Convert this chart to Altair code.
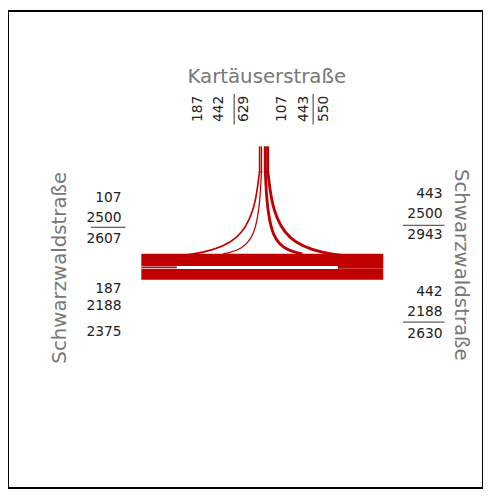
import altair as alt
import pandas as pd

# ---------------- data ----------------
thru_names = ["Ost → West", "West → Ost"]
thru_volumes = [2500, 2188]

turn_names = ["West → Kartäuser", "Kartäuser → West", "Ost → Kartäuser", "Kartäuser → Ost"]
turn_volumes = [187, 107, 443, 442]

left_labels = ["107", "2500", "2607", "187", "2188", "2375"]
right_labels = ["443", "2500", "2943", "442", "2188", "2630"]
top_labels = ["187", "442", "629", "107", "443", "550"]

street_top = "Kartäuserstraße"
street_side = "Schwarzwaldstraße"

# ---------------- layout (page pixels) ----------------
OFF = 8
W, H = 481, 483
RED = "#c00000"
FONT = "DejaVu Sans"

band_x0, band_x1 = 143, 388
thru_y = [260, 274.7]
stem_top = 145
curve_top = 170
# per turn flow: band-side start (x, y), stem x
turn_geom = [
    ((160, 258), 262.8),
    ((226, 254), 264.7),
    ((306, 254), 268.5),
    ((370, 258), 271.0),
]
# short horizontal parts of turning flows along the gap between the bands
gap_y = 267.6
turn_horiz = {0: (143, 179), 3: (342, 388)}

left_label_x = 123
left_label_y = [197, 218, 239, 290, 307, 333]
right_label_x = 448
right_label_y = [193, 214, 235, 293, 313, 335]
top_label_x = [200, 222, 247, 286, 308, 328]
top_label_y = 107

hsep = [(92, 127, 227), (408, 450, 225), (408, 450, 323)]
vsep = [(237, 92, 123), (317, 92, 123)]


def px(v):
    return v - OFF


xs = alt.Scale(domain=[0, W], nice=False, zero=False)
ys = alt.Scale(domain=[0, H], nice=False, zero=False, reverse=True)
ws = alt.Scale(domain=[0, 2500], range=[0.8, 12.5])

# curves
rows = []
for i, (name, vol) in enumerate(zip(turn_names, turn_volumes)):
    (ax, ay), sx = turn_geom[i]
    pts = [(ax, ay), (sx, ay), (sx, curve_top)]
    for k, (x, y) in enumerate(pts):
        rows.append({"flow": name, "o": k, "x": px(x), "y": px(y), "vol": vol})
curves_df = pd.DataFrame(rows)

curves = alt.Chart(curves_df).mark_line(
    interpolate="bundle", tension=0.8, color=RED, strokeCap="butt"
).encode(
    x=alt.X("x:Q", scale=xs, axis=None),
    y=alt.Y("y:Q", scale=ys, axis=None),
    detail="flow:N",
    order="o:Q",
    strokeWidth=alt.StrokeWidth("vol:Q", scale=ws, legend=None),
)

# straight flows, horizontal turn parts, stem parts
seg_rows = []
for name, vol, y in zip(thru_names, thru_volumes, thru_y):
    seg_rows.append({"flow": name, "x": px(band_x0), "x2": px(band_x1), "y": px(y), "vol": vol})
for i, (x0, x1) in turn_horiz.items():
    seg_rows.append({"flow": turn_names[i], "x": px(x0), "x2": px(x1), "y": px(gap_y), "vol": turn_volumes[i]})
seg_df = pd.DataFrame(seg_rows)

segs = alt.Chart(seg_df).mark_rule(color=RED, strokeCap="butt").encode(
    x=alt.X("x:Q", scale=xs, axis=None),
    x2="x2:Q",
    y=alt.Y("y:Q", scale=ys, axis=None),
    strokeWidth=alt.StrokeWidth("vol:Q", scale=ws, legend=None),
)

stem_df = pd.DataFrame(
    [{"flow": n, "x": px(g[1]), "y": px(stem_top), "y2": px(curve_top + 2), "vol": v}
     for n, v, g in zip(turn_names, turn_volumes, turn_geom)]
)
stems = alt.Chart(stem_df).mark_rule(color=RED, strokeCap="butt").encode(
    x=alt.X("x:Q", scale=xs, axis=None),
    y=alt.Y("y:Q", scale=ys, axis=None),
    y2="y2:Q",
    strokeWidth=alt.StrokeWidth("vol:Q", scale=ws, legend=None),
)

# separators
hsep_df = pd.DataFrame([{"x": px(a), "x2": px(b), "y": px(c)} for a, b, c in hsep])
vsep_df = pd.DataFrame([{"x": px(a), "y": px(b), "y2": px(c)} for a, b, c in vsep])
hs = alt.Chart(hsep_df).mark_rule(color="#333", strokeWidth=1).encode(
    x=alt.X("x:Q", scale=xs, axis=None), x2="x2:Q", y=alt.Y("y:Q", scale=ys, axis=None)
)
vs = alt.Chart(vsep_df).mark_rule(color="#333", strokeWidth=1).encode(
    x=alt.X("x:Q", scale=xs, axis=None), y=alt.Y("y:Q", scale=ys, axis=None), y2="y2:Q"
)

# number labels
side_df = pd.DataFrame(
    [{"t": t, "x": px(left_label_x), "y": px(y)} for t, y in zip(left_labels, left_label_y)]
    + [{"t": t, "x": px(right_label_x), "y": px(y)} for t, y in zip(right_labels, right_label_y)]
)
side_txt = alt.Chart(side_df).mark_text(
    align="right", baseline="middle", font=FONT, fontSize=14, color="#222"
).encode(
    x=alt.X("x:Q", scale=xs, axis=None), y=alt.Y("y:Q", scale=ys, axis=None), text="t:N"
)

top_df = pd.DataFrame(
    [{"t": t, "x": px(x), "y": px(top_label_y)} for t, x in zip(top_labels, top_label_x)]
)
top_txt = alt.Chart(top_df).mark_text(
    align="center", baseline="middle", angle=270, font=FONT, fontSize=14, color="#222"
).encode(
    x=alt.X("x:Q", scale=xs, axis=None), y=alt.Y("y:Q", scale=ys, axis=None), text="t:N"
)

# street names
title_top = alt.Chart(pd.DataFrame([{"t": street_top, "x": px(270), "y": px(75)}])).mark_text(
    align="center", baseline="middle", font=FONT, fontSize=20, color="#777"
).encode(x=alt.X("x:Q", scale=xs, axis=None), y=alt.Y("y:Q", scale=ys, axis=None), text="t:N")

title_left = alt.Chart(pd.DataFrame([{"t": street_side, "x": px(61), "y": px(268)}])).mark_text(
    align="center", baseline="middle", angle=270, font=FONT, fontSize=20, color="#777"
).encode(x=alt.X("x:Q", scale=xs, axis=None), y=alt.Y("y:Q", scale=ys, axis=None), text="t:N")

title_right = alt.Chart(pd.DataFrame([{"t": street_side, "x": px(467), "y": px(265)}])).mark_text(
    align="center", baseline="middle", angle=90, font=FONT, fontSize=20, color="#777"
).encode(x=alt.X("x:Q", scale=xs, axis=None), y=alt.Y("y:Q", scale=ys, axis=None), text="t:N")

chart = alt.layer(
    curves, stems, segs, hs, vs, side_txt, top_txt, title_top, title_left, title_right
).properties(
    width=W, height=H, padding=0, autosize=alt.AutoSizeParams(type="none"),
    background="white",
).configure_view(stroke="black", strokeWidth=2)

chart.save("out.html", embed_options={"renderer": "svg", "actions": False})
